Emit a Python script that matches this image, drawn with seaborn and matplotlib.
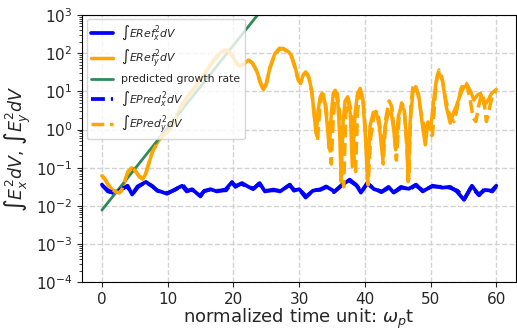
import numpy as np
import pandas as pd
import seaborn as sns
import matplotlib.pyplot as plt

# time axis values and log10 of the field energy
t_ref_x = [0, 0.9, 1.9, 2.9, 3.9, 4.6, 5.4, 6.7, 7.7, 8.4, 9.9, 11.2, 12.2, 12.9, 13.7, 15.0,
           15.5, 16.5, 17.5, 18.8, 19.8, 20.3, 21.3, 22.1, 23.0, 24.0, 24.8, 26.1, 27.1, 28.6,
           29.2, 30.0, 31.1, 32.1, 33.3, 34.1, 35.4, 36.4, 37.7, 38.7, 39.4, 40.4, 41.4, 42.6,
           43.6, 44.4, 45.6, 46.7, 47.8, 48.8, 50.3, 51.8, 53.0, 54.0, 55.1, 56.3, 57.3, 58.3,
           59.3, 60.0]
log_ref_x = [-1.44, -1.62, -1.66, -1.57, -1.47, -1.70, -1.49, -1.37, -1.49, -1.59, -1.68, -1.56,
             -1.47, -1.62, -1.56, -1.75, -1.62, -1.56, -1.62, -1.57, -1.37, -1.50, -1.40, -1.48,
             -1.56, -1.40, -1.62, -1.57, -1.62, -1.44, -1.60, -1.56, -1.75, -1.60, -1.56, -1.49,
             -1.62, -1.47, -1.31, -1.45, -1.65, -1.40, -1.56, -1.62, -1.50, -1.65, -1.52, -1.55,
             -1.44, -1.62, -1.47, -1.52, -1.50, -1.62, -1.84, -1.47, -1.70, -1.58, -1.60, -1.47]

t_pred_x = [0, 1.0, 2.0, 3.0, 3.8, 4.7, 5.5, 6.6, 7.6, 8.5, 10.0, 11.1, 12.3, 13.0, 13.8, 15.0,
            15.6, 16.4, 17.6, 18.9, 19.7, 20.4, 21.2, 22.2, 23.1, 23.9, 24.9, 26.0, 27.2, 28.5,
            29.3, 30.1, 31.0, 32.2, 33.2, 34.2, 35.3, 36.5, 37.6, 38.8, 39.5, 40.3, 41.5, 42.5,
            43.7, 44.5, 45.5, 46.8, 47.7, 48.9, 50.2, 51.9, 52.9, 54.1, 55.2, 56.2, 57.4, 58.2,
            59.4, 60.0]
log_pred_x = [-1.46, -1.60, -1.68, -1.55, -1.49, -1.68, -1.50, -1.38, -1.47, -1.61, -1.66, -1.58,
              -1.45, -1.60, -1.58, -1.72, -1.60, -1.58, -1.60, -1.59, -1.40, -1.47, -1.42, -1.50,
              -1.54, -1.42, -1.60, -1.59, -1.60, -1.46, -1.58, -1.58, -1.78, -1.58, -1.58, -1.50,
              -1.64, -1.45, -1.33, -1.47, -1.63, -1.42, -1.54, -1.64, -1.52, -1.63, -1.50, -1.57,
              -1.46, -1.60, -1.49, -1.50, -1.52, -1.60, -1.80, -1.50, -1.72, -1.56, -1.62, -1.49]

t_ref_y = [0, 0.5, 1.0, 1.6, 2.1, 2.6, 3.0, 3.5, 4.0, 4.5, 5.0, 5.6, 6.2, 6.7, 7.2, 7.7, 8.3,
           8.9, 9.5, 10.0, 10.5, 11.0, 12.0, 13.0, 14.0, 15.0, 16.0, 17.0, 18.0, 18.6, 19.2,
           19.8, 20.5, 21.0, 21.6, 22.3, 22.9, 23.5, 24.1, 24.6, 25.0, 25.6, 26.3, 27.0, 27.6,
           28.3, 28.8, 29.3, 29.8, 30.2, 30.6, 31.0, 31.4, 31.9, 32.3, 32.6, 32.9, 33.2, 33.5,
           33.9, 34.3, 34.6, 34.9, 35.2, 35.5, 35.9, 36.2, 36.4, 36.7, 37.0, 37.4, 37.8, 38.1,
           38.5, 38.9, 39.3, 39.7, 40.1, 40.4, 40.8, 41.3, 41.7, 42.2, 42.7, 43.1, 43.6, 44.0,
           44.4, 44.7, 45.1, 45.6, 46.0, 46.4, 46.6, 46.9, 47.3, 47.7, 48.2, 48.7, 49.2, 49.6,
           50.0, 50.5, 50.9, 51.3, 51.8, 52.4, 53.0, 53.5, 53.9, 54.5, 55.1, 55.6, 56.1, 56.6,
           57.1, 57.6, 58.2, 58.7, 59.3, 60.0]
log_ref_y = [-1.21, -1.30, -1.45, -1.58, -1.62, -1.66, -1.60, -1.35, -1.10, -1.00, -1.05, -1.22,
             -1.30, -1.15, -0.85, -0.57, -0.38, -0.22, -0.12, -0.05, 0.05, 0.20, 0.60, 0.86,
             1.08, 1.30, 1.56, 1.82, 2.01, 2.08, 2.07, 1.95, 1.73, 1.67, 1.72, 1.82, 1.75, 1.56,
             1.25, 1.05, 1.20, 1.65, 1.98, 2.13, 2.12, 2.05, 1.95, 1.70, 1.35, 1.20, 1.42, 1.51,
             1.42, 1.05, 0.40, -0.10, 0.50, 0.85, 0.95, 0.75, 0.10, -0.50, 0.40, 0.95, 1.03,
             0.70, -0.20, -1.36, 0.20, 0.75, 0.86, 0.40, -0.97, 0.40, 0.95, 1.08, 0.80, -0.20,
             -1.27, 0.10, 0.45, 0.47, 0.10, -0.70, 0.10, 0.45, 0.47, 0.00, -0.53, 0.35, 0.64,
             0.50, -0.30, -1.36, 0.20, 0.95, 1.12, 0.90, 0.20, -0.40, 0.20, 0.00, 0.80, 1.30,
             1.47, 1.30, 0.60, 0.17, 0.45, 0.60, 0.90, 1.12, 1.16, 1.00, 0.77, 0.90, 0.95, 0.64,
             0.75, 0.95, 1.05]

t_pred_y = [0, 0.5, 1.0, 1.6, 2.1, 2.6, 3.0, 3.5, 4.0, 4.5, 5.0, 5.6, 6.2, 6.7, 7.2, 7.7, 8.3,
            8.9, 9.5, 10.0, 10.5, 11.0, 12.0, 13.0, 14.0, 15.0, 16.0, 17.0, 18.0, 18.6, 19.2,
            19.8, 20.5, 21.0, 21.6, 22.3, 22.9, 23.5, 24.1, 24.6, 25.0, 25.6, 26.3, 27.0, 27.6,
            28.3, 28.9, 29.4, 29.9, 30.3, 30.7, 31.1, 31.5, 32.0, 32.4, 32.8, 33.1, 33.4, 33.7,
            34.1, 34.5, 34.9, 35.2, 35.5, 35.8, 36.2, 36.5, 36.8, 37.1, 37.5, 37.9, 38.3, 38.6,
            38.9, 39.3, 39.7, 40.1, 40.5, 40.9, 41.4, 41.9, 42.4, 42.8, 43.2, 43.7, 44.1, 44.5,
            44.8, 45.2, 45.6, 46.0, 46.4, 46.7, 47.0, 47.3, 47.6, 48.0, 48.6, 49.3, 49.8, 50.3,
            50.7, 51.0, 51.3, 51.7, 52.3, 53.0, 53.6, 54.1, 54.6, 55.1, 55.5, 56.0, 56.5, 56.9,
            57.3, 57.8, 58.1, 58.5, 58.9, 59.4, 60.0]
log_pred_y = [-1.20, -1.32, -1.46, -1.57, -1.63, -1.65, -1.58, -1.33, -1.09, -1.01, -1.06, -1.20,
              -1.28, -1.13, -0.84, -0.58, -0.39, -0.23, -0.12, -0.04, 0.06, 0.21, 0.58, 0.85,
              1.07, 1.31, 1.55, 1.80, 2.00, 2.07, 2.06, 1.93, 1.72, 1.66, 1.71, 1.81, 1.74, 1.54,
              1.22, 1.02, 1.18, 1.62, 1.96, 2.10, 2.12, 2.02, 1.88, 1.60, 1.28, 1.25, 1.45, 1.48,
              1.35, 0.90, 0.20, -0.30, 0.45, 0.85, 0.92, 0.60, -0.10, -0.90, 0.30, 0.90, 0.95,
              0.40, -1.20, -1.50, 0.40, 0.80, 0.50, -0.60, -1.10, 0.50, 1.00, 0.85, 0.00, -1.45,
              -0.20, 0.40, 0.50, 0.00, -0.90, 0.30, 0.75, 0.60, -0.10, -0.80, 0.30, 0.70, 0.55,
              -0.50, -1.30, 0.60, 1.10, 1.20, 1.00, 0.40, -0.10, -0.20, -0.14, 0.90, 1.40, 1.56,
              1.40, 0.80, 0.30, 0.21, 0.60, 1.05, 1.25, 1.20, 0.80, 0.30, 0.21, 0.60, 0.95, 0.80,
              0.21, 0.50, 0.90, 1.00]

# predicted growth rate: straight line on the log axis
t_growth = [0, 30]
growth = [7.8e-3, 2.3e4]

labels = [r'$\int ERef_x^2dV$', r'$\int ERef_y^2dV$', 'predicted growth rate',
          r'$\int EPred_x^2dV$', r'$\int EPred_y^2dV$']

sns.set_style('ticks')
fig = plt.figure(figsize=(5.17, 3.33), dpi=100)
ax = fig.add_axes([0.159, 0.152, 0.839, 0.803])

sns.lineplot(x=t_ref_x, y=10 ** np.array(log_ref_x), color='blue', lw=2.7, label=labels[0], ax=ax)
sns.lineplot(x=t_ref_y, y=10 ** np.array(log_ref_y), color='orange', lw=2.5, label=labels[1], ax=ax)
sns.lineplot(x=t_growth, y=growth, color='seagreen', lw=2, label=labels[2], ax=ax)
sns.lineplot(x=t_pred_x, y=10 ** np.array(log_pred_x), color='blue', lw=2.7, ls='--',
             label=labels[3], ax=ax)
sns.lineplot(x=t_pred_y, y=10 ** np.array(log_pred_y), color='orange', lw=2.5, ls='--',
             label=labels[4], ax=ax)

ax.set_yscale('log')
ax.set_ylim(1e-4, 1e3)
ax.set_xlim(-3, 63)
ax.set_xticks([0, 10, 20, 30, 40, 50, 60])
ax.grid(True, which='major', ls='--', color='lightgray', lw=1)
ax.tick_params(labelsize=11)
ax.set_xlabel(r'normalized time unit: $\omega_p$t', fontsize=13, labelpad=0)
ax.set_ylabel(r'$\int E_x^2dV$, $\int E_y^2dV$', fontsize=12.5, labelpad=2)
ax.legend(loc='upper left', fontsize=7.8, framealpha=0.8, borderaxespad=0.4)
for s in ax.spines.values():
    s.set_color('black')

fig.savefig('out.png', dpi=100)
